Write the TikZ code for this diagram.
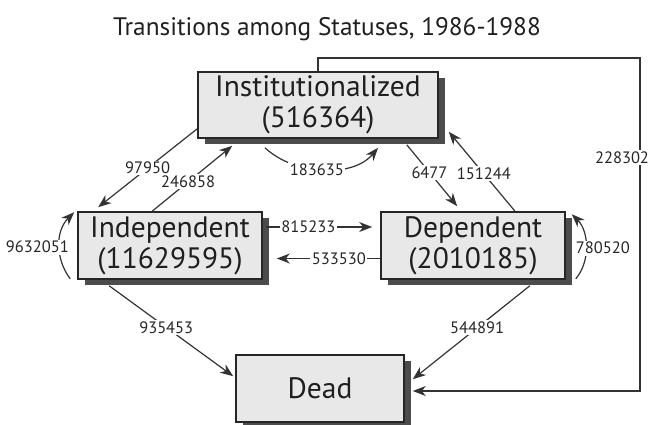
\documentclass[tikz,border=0pt]{standalone}
\usepackage{fontspec}
\setmainfont{PT Sans}
\usetikzlibrary{arrows.meta,shadows}

\begin{document}
\begin{tikzpicture}[x=1pt,y=-1pt,>={Stealth[length=13pt,width=10pt,inset=4pt]},
  status/.style={draw=black!85,line width=1.6pt,fill=black!9,text=black!88,align=center,
    font=\fontsize{29.5}{31}\selectfont,inner sep=0pt,
    general shadow={fill=black!70,shadow xshift=7pt,shadow yshift=-6pt}},
  flow/.style={->,draw=black!80,line width=1.2pt},
  count/.style={fill=white,inner sep=1.5pt,text=black!85,font=\fontsize{16.5}{18}\selectfont}]
\useasboundingbox (0,0) rectangle (653,424);

\node[font=\fontsize{25.3}{30}\selectfont,text=black!88] (title) at (327,29) {Transitions among Statuses, 1986-1988};

\node[status,minimum width=240pt,minimum height=66pt] (inst) at (318,105) {Institutionalized\\(516364)};
\node[status,minimum width=184pt,minimum height=67pt] (indep) at (170,245.5) {Independent\\(11629595)};
\node[status,minimum width=184pt,minimum height=67pt] (dep) at (473,245.5) {Dependent\\(2010185)};
\node[status,minimum width=168pt,minimum height=67pt] (dead) at (320,388.5) {Dead};

\coordinate (cornerA) at (640,58);
\coordinate (cornerB) at (640,391);

\draw[flow] ([yshift=10pt]inst.south west) -- node[count]{97950} ([xshift=21pt,yshift=4pt]indep.north west);
\draw[flow] ([xshift=75pt]indep.north west) -- node[count,pos=0.45]{246858} ([xshift=35pt,yshift=-7pt]inst.south west);
\draw[flow] ([xshift=-53pt,yshift=-9pt]inst.south) .. controls +(30,28) and +(-25,30) .. node[count,pos=0.45]{183635} ([xshift=60pt,yshift=-9pt]inst.south);
\draw[flow] ([xshift=-32pt,yshift=-6pt]inst.south east) -- node[count,pos=0.45]{6477} ([xshift=77pt,yshift=5pt]dep.north west);
\draw[flow] ([xshift=42pt]dep.north) -- node[count,pos=0.47]{151244} ([xshift=10pt,yshift=7pt]inst.south east);
\draw[flow] ([xshift=3pt,yshift=18.5pt]indep.east) -- node[count,pos=0.4]{815233} ([xshift=-8pt,yshift=18.5pt]dep.west);
\draw[flow] ([yshift=-13pt]dep.west) -- node[count,pos=0.4]{533530} ([xshift=14pt,yshift=-13pt]indep.east);
\draw[flow] ([xshift=-7pt,yshift=1pt]indep.south west) .. controls +(-15,-20) and +(-19,19) .. node[count,xshift=-22pt,yshift=-2pt]{9632051} ([xshift=-3pt,yshift=-1pt]indep.north west);
\draw[flow] ([xshift=10pt,yshift=1pt]dep.south east) .. controls +(15,-18) and +(17,17) .. node[count,xshift=17pt,yshift=-2pt]{780520} ([xshift=6pt,yshift=-3pt]dep.north east);
\draw[flow] ([xshift=32pt,yshift=-6pt]indep.south west) -- node[count,pos=0.46]{935453} ([xshift=-2pt,yshift=-22pt]dead.north west);
\draw[flow] ([xshift=-36pt,yshift=-6pt]dep.south east) -- node[count,pos=0.45]{544891} ([xshift=8pt,yshift=-25pt]dead.north east);
\draw[flow] (inst.north) |- (cornerA) -- node[count,pos=0.3,xshift=-18pt]{228302} (cornerB) -- ([xshift=8pt,yshift=-2.5pt]dead.east);
\end{tikzpicture}
\end{document}
